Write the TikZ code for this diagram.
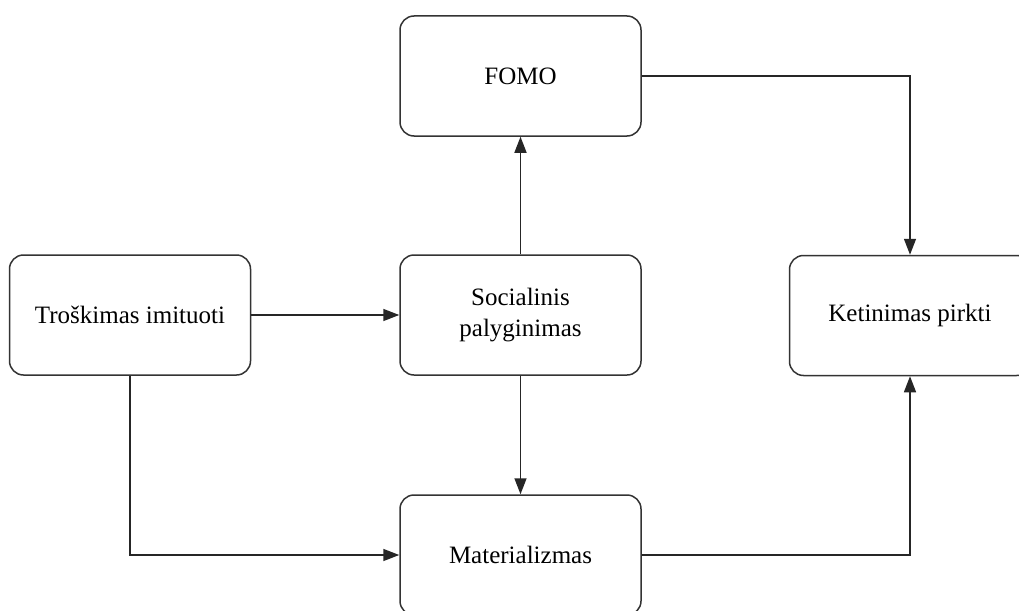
\documentclass[tikz,border=0pt]{standalone}
\usepackage{fontspec}
\setmainfont{Liberation Serif}
\usetikzlibrary{arrows.meta}
\begin{document}
\begin{tikzpicture}[x=1pt,y=-1pt,
  box/.style={draw=black!80, line width=1.5pt, rounded corners=14pt, minimum width=241pt, minimum height=120pt, inner sep=0pt, align=center, font=\fontsize{25}{31}\selectfont},
  conn/.style={draw=black!85, line width=1.5pt, -{Triangle[length=16pt,width=12pt]}},
  plain/.style={draw=black!85, line width=1.5pt}]
\clip (0,0) rectangle (1019,610);
\fill[white] (0,0) rectangle (1019,610);
\node[box] (fomo) at (520.5,76) {FOMO};
\node[box] (tros) at (130,315) {Troškimas imituoti};
\node[box] (soc) at (520.5,315) {Socialinis\\palyginimas};
\node[box] (ket) at (910,315.5) {Ketinimas pirkti};
\node[box] (mat) at (520.5,555) {Materializmas};
\draw[conn] (tros.east) -- (soc.west);
\draw[conn] (soc.north) -- (fomo.south);
\draw[conn] (soc.south) -- (mat.north);
\draw[conn] (fomo.east) -| (ket.north);
\draw[conn] (tros.south) |- (mat.west);
\draw[conn] (mat.east) -| (ket.south);
\end{tikzpicture}
\end{document}
